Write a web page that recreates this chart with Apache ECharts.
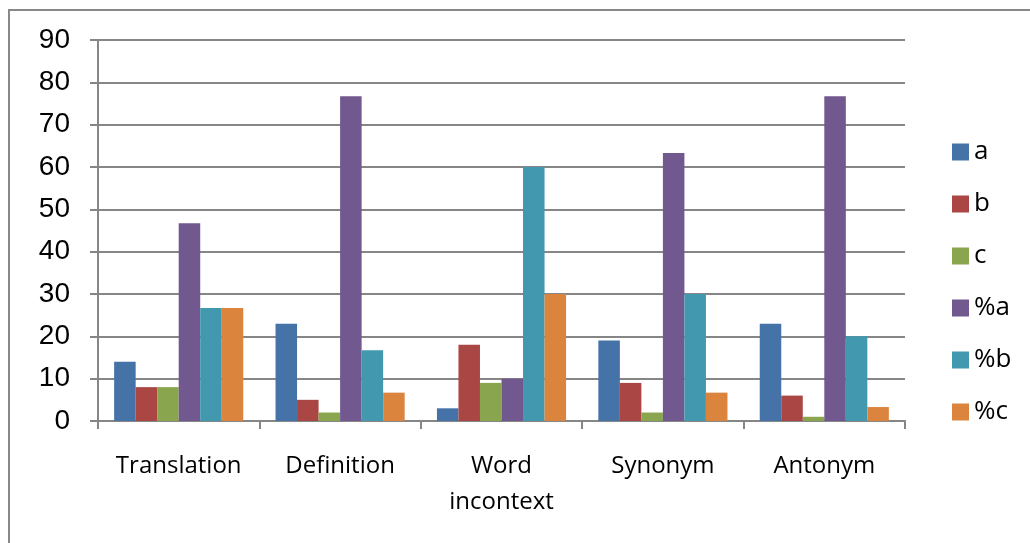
<!DOCTYPE html>
<html>
<head>
<meta charset="utf-8">
<script src="https://cdn.jsdelivr.net/npm/echarts@6/dist/echarts.min.js"></script>
<style>
  html, body { margin: 0; padding: 0; background: #fff; }
  #chart { width: 1030px; height: 543px; }
</style>
</head>
<body>
<div id="chart"></div>
<script>
// Question types on the category axis
const categories = ['Translation', 'Definition', 'Word\nincontext', 'Synonym', 'Antonym'];

// Counts and percentages per question type
const seriesNames = ['a', 'b', 'c', '%a', '%b', '%c'];
const valuesA    = [14, 23, 3, 19, 23];
const valuesB    = [8, 5, 18, 9, 6];
const valuesC    = [8, 2, 9, 2, 1];
const valuesPctA = [46.7, 76.7, 10, 63.3, 76.7];
const valuesPctB = [26.7, 16.7, 60, 30, 20];
const valuesPctC = [26.7, 6.7, 30, 6.7, 3.3];

// Value axis ticks
const yMin = 0, yMax = 90, yStep = 10;

const seriesValues = [valuesA, valuesB, valuesC, valuesPctA, valuesPctB, valuesPctC];
const palette = ['#4572A7', '#AA4643', '#89A54E', '#71588F', '#4198AF', '#DB843D'];

const chart = echarts.init(document.getElementById('chart'), null, { renderer: 'canvas' });

chart.setOption({
  animation: false,
  backgroundColor: '#ffffff',
  color: palette,
  grid: { left: 98, right: 125, top: 40, bottom: 122, containLabel: false },
  legend: {
    orient: 'vertical',
    left: 947,
    top: 134,
    itemWidth: 17,
    itemHeight: 17,
    itemGap: 26,
    icon: 'rect',
    textStyle: { fontFamily: 'Open Sans', fontSize: 26, color: '#000', padding: [0, 0, 0, 0] },
    data: seriesNames
  },
  xAxis: {
    type: 'category',
    data: categories,
    axisLine: { show: true, lineStyle: { color: '#868686', width: 2 } },
    axisTick: { show: true, length: 8, lineStyle: { color: '#868686', width: 2 } },
    axisLabel: {
      fontFamily: 'Open Sans', fontSize: 24, color: '#000',
      margin: 27, lineHeight: 36, interval: 0
    },
    splitLine: { show: false }
  },
  yAxis: {
    type: 'value',
    min: yMin, max: yMax, interval: yStep,
    axisLine: { show: true, lineStyle: { color: '#868686', width: 2 } },
    axisTick: { show: true, length: 8, lineStyle: { color: '#868686', width: 2 } },
    axisLabel: { fontFamily: 'Liberation Sans', fontSize: 28, color: '#000', margin: 28 },
    splitLine: { show: true, lineStyle: { color: '#868686', width: 2 } }
  },
  series: seriesNames.map((name, i) => ({
    name: name,
    type: 'bar',
    data: seriesValues[i],
    barGap: '0%',
    barCategoryGap: '20%',
    itemStyle: { color: palette[i] }
  })),
  graphic: [
    {
      type: 'polyline',
      shape: { points: [[9, 543], [9, 10], [1030, 10]] },
      style: { stroke: '#888888', lineWidth: 2, fill: null },
      silent: true
    }
  ]
});
</script>
</body>
</html>
